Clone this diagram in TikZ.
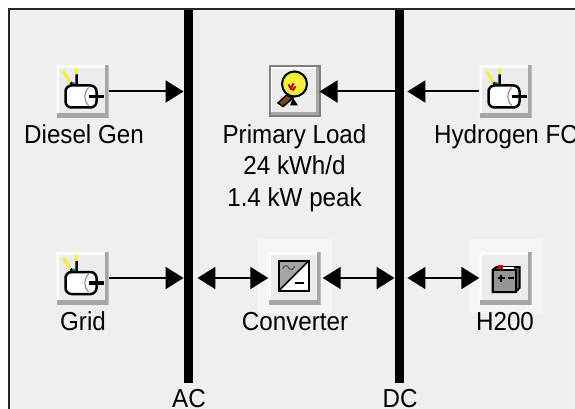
\documentclass[tikz,border=0pt]{standalone}
\usepackage{fontspec}
\setmainfont[FakeStretch=0.93]{Liberation Sans}
\usetikzlibrary{arrows.meta}

\definecolor{panelgray}{HTML}{EFEFEF}
\definecolor{halogray}{HTML}{F5F5F5}
\definecolor{btnface}{HTML}{ECECEC}
\definecolor{btnshade}{HTML}{A6A6A6}
\definecolor{bulbyellow}{HTML}{F2EE3C}
\definecolor{bulbbrown}{HTML}{7A4A12}

\tikzset{
  btn/.style={rectangle, minimum size=52pt, inner sep=0pt, fill=btnface,
    path picture={
      \draw[white, line width=5pt] (path picture bounding box.south west) -- (path picture bounding box.north west) -- (path picture bounding box.north east);
      \draw[btnshade, line width=8pt] (path picture bounding box.north east) -- (path picture bounding box.south east) -- (path picture bounding box.south west);
    }},
  loadbtn/.style={btn, draw=gray, line width=2pt},
  busbar/.style={rectangle, fill=black, inner sep=0pt, minimum width=9.5pt, minimum height=373pt},
  halo/.style={rectangle, fill=halogray, inner sep=0pt, minimum width=74pt, minimum height=74pt},
  lbl/.style={inner sep=0pt, anchor=base, font=\fontsize{26}{31.5}\selectfont},
  flow/.style={line width=2pt, -{Triangle[length=18pt,width=22pt]}},
  flowboth/.style={line width=2pt, {Triangle[length=18pt,width=22pt]}-{Triangle[length=18pt,width=22pt]}},
  pics/gensym/.style={code={
    \draw[bulbyellow, line width=3pt] (-19,-20) -- (-12,-9);
    \draw[bulbyellow, line width=3pt] (-6,-23) -- (-6,-17);
    \draw[black, line width=2.5pt] (-12,-9) -- (-9,-6) (-6,-17) -- (-6,-6);
    \draw[teal, line width=2pt] (-10,-9) -- (-7,-7);
    \draw[black, line width=2.5pt, fill=white, rounded corners=6pt] (-17,-6) rectangle (14,16);
    \draw[gray, line width=1pt] (6,-4) .. controls (1,2) and (1,8) .. (6,14);
    \draw[black, line width=3.5pt] (6,5) -- (21,5);
  }},
  pics/bulbsym/.style={code={
    \fill[black] (-4.5,14) -- (-1.5,6.5) -- (3.5,14) -- cycle;
    \draw[black, line width=1.5pt, fill=bulbbrown] (-8,3.5) -- (-16.5,11.5) -- (-11.5,15) -- (-1.5,6.5) -- cycle;
    \draw[black, line width=2pt, fill=bulbyellow] (0,-7.5) circle[radius=12.5pt];
    \draw[red!70!black, line width=2pt] (-6,-7) -- (-3,-2) (-1,-8) -- (-3,-4) (-2,-1) -- (1,-5);
  }},
  pics/convsym/.style={code={
    \fill[btnshade] (-16,-17) -- (14,-17) -- (-16,13) -- cycle;
    \fill[white] (14,-17) -- (14,13) -- (-16,13) -- cycle;
    \draw[black, line width=1.5pt] (-16,13) -- (14,-17);
    \draw[black, line width=2pt] (-16,-17) rectangle (14,13);
    \draw[black!70, line width=1pt] (-12,-9) .. controls (-9,-15) and (-7,-12) .. (-5,-9) .. controls (-3,-7) and (-1,-9) .. (0,-12);
    \draw[black, line width=2pt] (0,5) -- (9,5);
  }},
  pics/battsym/.style={code={
    \draw[black, line width=2pt, fill=black!60] (-9,-11) -- (14,-11) -- (14,10) -- (10,14) -- (-13,14) -- (-13,-8) -- cycle;
    \draw[black, line width=2pt, fill=btnshade!90!black] (-13,-8) rectangle (10,14);
    \draw[white, line width=1.5pt] (-6,-10) -- (8,-10);
    \fill[red!80!black] (-8,-13) rectangle (-3,-9);
    \draw[black, line width=1.5pt] (-8,0) -- (-1,0) (-4.5,-3.5) -- (-4.5,3.5) (2,0) -- (8,0);
  }}
}

\begin{document}
\begin{tikzpicture}[x=1pt, y=-1pt]
  \useasboundingbox (0,0) rectangle (575,409);
  \fill[white] (0,0) rectangle (575,409);
  % panel
  \fill[panelgray] (9,9) rectangle (575,409);
  \draw[black!85, line width=2pt] (9,409) -- (9,9) -- (575,9);

  \node[halo] (convhalo) at (294.5,276) {};
  \node[halo] (batthalo) at (505.5,276) {};

  % buses
  \node[busbar] (acbus) at (188.5,196.5) {};
  \node[busbar] (dcbus) at (399.5,196.5) {};
  \node[lbl] (aclabel) at (189,407.5) {AC};
  \node[lbl] (dclabel) at (400,407.5) {DC};

  % components
  \node[btn] (dieselgen) at (82.5,91.5) {};
  \node[loadbtn, minimum size=50pt] (primaryload) at (294.5,91.5) {};
  \node[btn] (hydrogenfc) at (505.5,91.5) {};
  \node[btn] (gridgen) at (82.5,278) {};
  \node[btn] (converter) at (294.5,278) {};
  \node[btn] (battery) at (505.5,278) {};

  \pic at (dieselgen) {gensym};
  \pic at (hydrogenfc) {gensym};
  \pic at (gridgen) {gensym};
  \pic at (primaryload) {bulbsym};
  \pic at (converter) {convsym};
  \pic at (battery) {battsym};

  \node[lbl] (dieselname) at (84,143) {Diesel Gen};
  \node[lbl] (hydrogenname) at (506,143) {Hydrogen FC};
  \node[lbl, align=center] (loadname) at (294.5,206) {Primary Load\\24 kWh/d\\1.4 kW peak};
  \node[lbl] (gridname) at (83,330) {Grid};
  \node[lbl] (convname) at (295,330) {Converter};
  \node[lbl] (battname) at (505,330) {H200};

  % connections
  \draw[flow] (dieselgen.east) -- (dieselgen -| acbus.west);
  \draw[flow] (gridgen.east) -- (gridgen -| acbus.west);
  \draw[flow, shorten >=-1pt] (dcbus.west |- primaryload) -- (primaryload.east);
  \draw[flow, shorten >=3pt] (hydrogenfc.west) -- (hydrogenfc -| dcbus.east);
  \draw[flowboth, shorten <=4pt] (acbus.east |- converter) -- (converter.west);
  \draw[flowboth, shorten <=2pt] (converter.east) -- (converter -| dcbus.west);
  \draw[flowboth, shorten <=3pt] (dcbus.east |- battery) -- (battery.west);
\end{tikzpicture}
\end{document}
